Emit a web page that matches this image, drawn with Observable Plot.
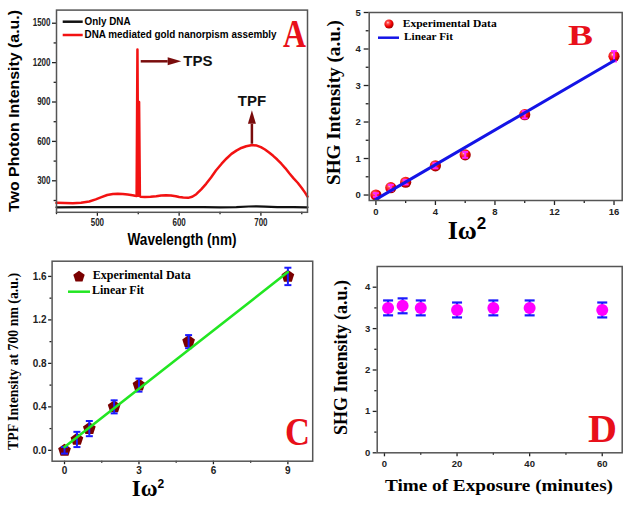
<!DOCTYPE html>
<html><head><meta charset="utf-8">
<script src="https://cdn.jsdelivr.net/npm/d3@7"></script>
<script src="https://cdn.jsdelivr.net/npm/@observablehq/plot@0.6"></script>
<style>
html,body{margin:0;padding:0;background:#fff;}
#fig{position:relative;width:629px;height:505px;overflow:hidden;background:#fff;}
#fig > div{position:absolute;}
</style></head><body><div id="fig"></div>
<script>
// ---------- Panel A data ----------
const wavelengthRed = [450,460,470,480,490,498,505,512,519,525,531,537,543,546,548,549,550,551,552,553,558,565,572,578,584,590,596,600,605,611,616,621,627,633,639,645,652,658,664,670,676,682,688,691,695,700,705,710,715,720,725,730,735,740,745,750,754,757];
const intensityRed  = [132,130,128,132,142,158,175,192,200,202,200,195,190,186,184,1300,186,900,182,178,177,178,182,188,190,188,182,176,172,170,178,198,235,277,325,378,430,470,505,530,550,563,570,571,568,556,538,515,490,462,430,395,355,318,285,245,210,180];
const wavelengthBlack = [450,480,510,540,570,600,630,650,670,685,695,705,720,740,757];
const intensityBlack  = [98,99,100,99,100,100,99,98,100,104,105,103,100,99,98];
const legendLabelsA = ["Only DNA", "DNA mediated gold nanorpism assembly"];
const arrowLabels = ["TPS", "TPF"];
const arrowStartX = [553, 689], arrowStartY = [1210, 582];
const arrowBaseX = [586, 689], arrowBaseY = [1210, 734];
const arrowTurn = [90, 0];
const arrowLabelX = [605, 689], arrowLabelY = [1210, 907];
const ticksAx = [500,600,700], minorAx = [450,550,650,750];
const ticksAy = [300,600,900,1200,1500], minorAy = [150,450,750,1050,1350];

// ---------- Panel B data ----------
const powerB = [0,1,2,4,6,10,16];
const shgB   = [0,0.2,0.35,0.8,1.1,2.2,3.8];
const errB   = [0.05,0.08,0.06,0.07,0.08,0.1,0.14];
const fitBx = [0,16], fitBy = [-0.12,3.68];
const ticksBx = [0,4,8,12,16], minorBx = [2,6,10,14];
const ticksBy = [0,1,2,3,4,5], minorBy = [0.5,1.5,2.5,3.5,4.5];

// ---------- Panel C data ----------
const powerC = [0,0.5,1,2,3,5,9];
const tpfC   = [0,0.1,0.2,0.4,0.6,1.0,1.6];
const errC   = [0.03,0.07,0.07,0.06,0.06,0.06,0.08];
const fitCx = [0,9], fitCy = [0.03,1.64];
const ticksCx = [0,3,6,9], minorCx = [1.5,4.5,7.5];
const ticksCy = [0,0.4,0.8,1.2,1.6], minorCy = [0.2,0.6,1.0,1.4];

// ---------- Panel D data ----------
const timeD = [1,5,10,20,30,40,60];
const shgD  = [3.5,3.55,3.5,3.45,3.5,3.5,3.45];
const errD  = [0.18,0.18,0.18,0.18,0.18,0.18,0.18];
const ticksDx = [0,20,40,60], minorDx = [10,30,50];
const ticksDy = [0,1,2,3,4], minorDy = [0.5,1.5,2.5,3.5];

// ---------- helpers ----------
const SANS = "Liberation Sans", SERIF = "Liberation Serif";
const plain = d => String(d);
const arrowHead = {draw(ctx, size){ const w = Math.sqrt(size/Math.PI); ctx.moveTo(-w,0); ctx.lineTo(0,-w*3.4); ctx.lineTo(w,0); ctx.closePath(); }};
const pentagon = {draw(ctx, size){ const r = Math.sqrt(size/Math.PI)*1.15; for(let i=0;i<5;i++){ const a=-Math.PI/2+i*2*Math.PI/5; const px=r*Math.cos(a), py=r*Math.sin(a); if(i) ctx.lineTo(px,py); else ctx.moveTo(px,py);} ctx.closePath(); }};
const cap = {draw(ctx, size){ const w = Math.sqrt(size/Math.PI); ctx.moveTo(-w,0); ctx.lineTo(w,0); }};

function axes(xt, xm, yt, ym, o) {
  const base = {color:"#222", strokeWidth:1.3, label:null, fontFamily:SANS, fontWeight:"bold", fontSize:o.fs};
  return [
    Plot.axisX(xt, {...base, tickSize:o.ts, tickPadding:o.px, tickFormat:o.fx || plain}),
    Plot.axisX(xm, {...base, tickSize:o.ts*0.6, tickFormat:()=>""}),
    Plot.axisY(yt, {...base, tickSize:o.ts, tickPadding:o.py, tickFormat:o.fy || plain}),
    Plot.axisY(ym, {...base, tickSize:o.ts*0.6, tickFormat:()=>""}),
    Plot.frame({stroke:"#555", strokeWidth:1.5})
  ];
}
function place(svg, left, top) {
  const d = document.createElement("div");
  d.style.left = left + "px"; d.style.top = top + "px";
  d.appendChild(svg);
  document.getElementById("fig").appendChild(d);
  return d3.select(svg);
}
function txt(s, o) {
  const t = s.append("text").attr("x", o.x).attr("y", o.y)
    .attr("font-family", o.family || SERIF).attr("font-size", o.size)
    .attr("font-weight", "bold").attr("fill", o.fill || "#000")
    .attr("text-anchor", o.anchor || "start")
    .attr("dominant-baseline", o.base || "auto");
  if (o.rotate) t.attr("transform", `rotate(${o.rotate} ${o.x} ${o.y})`);
  t.text(o.text);
  if (o.len) t.attr("textLength", o.len).attr("lengthAdjust", "spacingAndGlyphs");
  return t;
}
function seg(s, x1, x2, y, color, w) {
  s.append("line").attr("x1", x1).attr("x2", x2).attr("y1", y).attr("y2", y).attr("stroke", color).attr("stroke-width", w);
}
function superLabel(s, x, y, big, small, dy) {
  const t = s.append("text").attr("x", x).attr("y", y).attr("font-weight", "bold").attr("fill", "#000");
  t.append("tspan").attr("font-family", SERIF).attr("font-size", big).text("Iω");
  t.append("tspan").attr("font-family", SANS).attr("font-size", small).attr("dy", dy).text("2");
}
const style = {fontFamily: SANS, fontWeight: "bold", fontSize: "10px", background: "transparent", color: "#222"};

// ---------- Panel A ----------
const idxRed = d3.range(wavelengthRed.length), idxBlack = d3.range(wavelengthBlack.length), idx2 = d3.range(2);
const plotA = Plot.plot({
  width: 315, height: 252, marginLeft: 56, marginRight: 8, marginTop: 9.6, marginBottom: 40.2,
  x: {domain: [450, 757]}, y: {domain: [60, 1600]}, style,
  marks: [
    Plot.line(idxRed, {x: i => wavelengthRed[i], y: i => intensityRed[i], stroke: "#f21212", strokeWidth: 2.5}),
    Plot.line(idxBlack, {x: i => wavelengthBlack[i], y: i => intensityBlack[i], stroke: "#111", strokeWidth: 2.2}),
    Plot.link(idx2, {x1: i => arrowStartX[i], y1: i => arrowStartY[i], x2: i => arrowBaseX[i], y2: i => arrowBaseY[i], stroke: "#7a0c0c", strokeWidth: 2.5}),
    Plot.dot(idx2, {x: i => arrowBaseX[i], y: i => arrowBaseY[i], symbol: arrowHead, r: 4, rotate: i => arrowTurn[i], fill: "#7a0c0c", stroke: "none"}),
    Plot.text([0], {x: i => arrowLabelX[i], y: i => arrowLabelY[i], text: i => arrowLabels[i], textAnchor: "start", fontSize: 15, fontWeight: "bold", fontFamily: SANS, fill: "#111"}),
    Plot.text([1], {x: i => arrowLabelX[i], y: i => arrowLabelY[i], text: i => arrowLabels[i], textAnchor: "middle", fontSize: 15, fontWeight: "bold", fontFamily: SANS, fill: "#111"}),
    ...axes(ticksAx, minorAx, ticksAy, minorAy, {fs: 10, ts: 4, px: 3, py: 2})
  ]
});
const sA = place(plotA, 0, 0);
sA.selectAll('g[aria-label$="tick label"] text').each(function(){ const L = this.getComputedTextLength(); if (L > 0) { this.setAttribute("textLength", L*0.8); this.setAttribute("lengthAdjust", "spacingAndGlyphs"); } });
seg(sA, 62.7, 82.7, 21.7, "#111", 2.5);
seg(sA, 62.7, 82.7, 35, "#f21212", 2.5);
txt(sA, {x: 84.5, y: 21.7, text: legendLabelsA[0], family: SANS, size: 11, base: "middle", len: 46});
txt(sA, {x: 84.5, y: 35, text: legendLabelsA[1], family: SANS, size: 10.5, base: "middle", len: 192});
txt(sA, {x: 283, y: 47, text: "A", size: 40, fill: "#e8101a", len: 23});
txt(sA, {x: 19, y: 111, text: "Two Photon Intensity (a.u.)", family: SANS, size: 15.5, anchor: "middle", rotate: -90, len: 202});
txt(sA, {x: 182, y: 245, text: "Wavelength (nm)", family: SANS, size: 16, anchor: "middle", len: 109});

// ---------- Panel B ----------
const idxB = d3.range(powerB.length);
const plotB = Plot.plot({
  width: 314, height: 250, marginLeft: 53.7, marginRight: 7.3, marginTop: 12, marginBottom: 50,
  x: {domain: [-0.45, 16.55]}, y: {domain: [-0.15, 5]}, style,
  marks: [
    Plot.dot(idxB, {x: i => powerB[i], y: i => shgB[i], r: 5.6, fill: "url(#sphereGrad)", stroke: "none"}),
    Plot.ruleX(idxB, {x: i => powerB[i], y1: i => shgB[i]-errB[i], y2: i => shgB[i]+errB[i], stroke: "#ff22ff", strokeWidth: 2}),
    Plot.dot(idxB, {x: i => powerB[i], y: i => shgB[i]+errB[i], symbol: cap, r: 3, fill: "none", stroke: "#ff22ff", strokeWidth: 2}),
    Plot.dot(idxB, {x: i => powerB[i], y: i => shgB[i]-errB[i], symbol: cap, r: 3, fill: "none", stroke: "#ff22ff", strokeWidth: 2}),
    Plot.line(d3.range(2), {x: i => fitBx[i], y: i => fitBy[i], stroke: "#1414e6", strokeWidth: 3}),
    ...axes(ticksBx, minorBx, ticksBy, minorBy, {fs: 9.5, ts: 5, px: 3, py: 3.5})
  ]
});
const sB = place(plotB, 315, 0);
const defs = sB.insert("defs", ":first-child");
const grad = defs.append("radialGradient").attr("id", "sphereGrad").attr("cx", "38%").attr("cy", "35%").attr("r", "65%");
[["0%", "#ffe0e0"], ["22%", "#ff5050"], ["65%", "#f00000"], ["100%", "#a00000"]].forEach(([o, c]) => grad.append("stop").attr("offset", o).attr("stop-color", c));
sB.append("circle").attr("cx", 74).attr("cy", 24).attr("r", 4.6).attr("fill", "url(#sphereGrad)");
txt(sB, {x: 87.7, y: 24, text: "Experimental Data", size: 11, base: "middle", len: 94});
seg(sB, 63, 84, 37.7, "#1414e6", 2.5);
txt(sB, {x: 89, y: 37.7, text: "Linear Fit", size: 11, base: "middle", len: 49});
txt(sB, {x: 253, y: 45, text: "B", size: 30, fill: "#e8101a", len: 25});
txt(sB, {x: 25, y: 102.5, text: "SHG Intensity (a.u.)", size: 19, anchor: "middle", rotate: -90, len: 165});
superLabel(sB, 152, 239, 26, 17, -10);

// ---------- Panel C ----------
const idxC = d3.range(powerC.length);
const plotC = Plot.plot({
  width: 315, height: 253, marginLeft: 51.6, marginRight: 2.8, marginTop: 8.7, marginBottom: 44.3,
  x: {domain: [-0.5, 10]}, y: {domain: [-0.1, 1.74]}, style,
  marks: [
    Plot.dot(idxC, {x: i => powerC[i], y: i => tpfC[i], symbol: pentagon, r: 5.8, fill: "#7a0000", stroke: "none"}),
    Plot.ruleX(idxC, {x: i => powerC[i], y1: i => tpfC[i]-errC[i], y2: i => tpfC[i]+errC[i], stroke: "#1a1aff", strokeWidth: 2}),
    Plot.dot(idxC, {x: i => powerC[i], y: i => tpfC[i]+errC[i], symbol: cap, r: 3.5, fill: "none", stroke: "#1a1aff", strokeWidth: 2}),
    Plot.dot(idxC, {x: i => powerC[i], y: i => tpfC[i]-errC[i], symbol: cap, r: 3.5, fill: "none", stroke: "#1a1aff", strokeWidth: 2}),
    Plot.line(d3.range(2), {x: i => fitCx[i], y: i => fitCy[i], stroke: "#22e622", strokeWidth: 2.6}),
    ...axes(ticksCx, minorCx, ticksCy, minorCy, {fs: 10, ts: 3.5, px: 2.5, py: 2, fy: d3.format(".1f")})
  ]
});
const sC = place(plotC, 0, 252);
{
  const r = 5.2*1.15, pts = d3.range(5).map(i => { const a = -Math.PI/2 + i*2*Math.PI/5; return [79 + r*Math.cos(a), 24.7 + r*Math.sin(a)]; });
  sC.append("path").attr("d", "M" + pts.map(p => p.join(",")).join("L") + "Z").attr("fill", "#7a0000");
}
txt(sC, {x: 92.7, y: 24.7, text: "Experimental Data", size: 11.5, base: "middle", len: 98});
seg(sC, 68, 90, 39.7, "#22e622", 2.5);
txt(sC, {x: 92, y: 39.7, text: "Linear Fit", size: 11.5, base: "middle", len: 52});
txt(sC, {x: 285, y: 193, text: "C", size: 40, fill: "#e8101a", len: 25});
txt(sC, {x: 18, y: 109.5, text: "TPF Intensity at 700 nm (a.u.)", size: 14, anchor: "middle", rotate: -90, len: 177});
superLabel(sC, 148, 243.5, 23, 12, -7.6);

// ---------- Panel D ----------
const idxD = d3.range(timeD.length);
const plotD = Plot.plot({
  width: 314, height: 253, marginLeft: 61.7, marginRight: 7.3, marginTop: 14, marginBottom: 52.7,
  x: {domain: [-2, 65.5]}, y: {domain: [0, 4.5]}, style,
  marks: [
    Plot.ruleX(idxD, {x: i => timeD[i], y1: i => shgD[i]-errD[i], y2: i => shgD[i]+errD[i], stroke: "#1a1aff", strokeWidth: 2}),
    Plot.dot(idxD, {x: i => timeD[i], y: i => shgD[i]+errD[i], symbol: cap, r: 5, fill: "none", stroke: "#1a1aff", strokeWidth: 2.2}),
    Plot.dot(idxD, {x: i => timeD[i], y: i => shgD[i]-errD[i], symbol: cap, r: 5, fill: "none", stroke: "#1a1aff", strokeWidth: 2.2}),
    Plot.dot(idxD, {x: i => timeD[i], y: i => shgD[i], r: 6, fill: "#ff00ff", stroke: "none"}),
    ...axes(ticksDx, minorDx, ticksDy, minorDy, {fs: 9.5, ts: 4, px: 3.5, py: 3})
  ]
});
const sD = place(plotD, 315, 252);
txt(sD, {x: 273, y: 190, text: "D", size: 40, fill: "#e8101a", len: 29});
txt(sD, {x: 32, y: 105.5, text: "SHG Intensity (a.u.)", size: 18, anchor: "middle", rotate: -90, len: 155});
txt(sD, {x: 184, y: 239, text: "Time of Exposure (minutes)", size: 17, anchor: "middle", len: 228});
</script></body></html>
